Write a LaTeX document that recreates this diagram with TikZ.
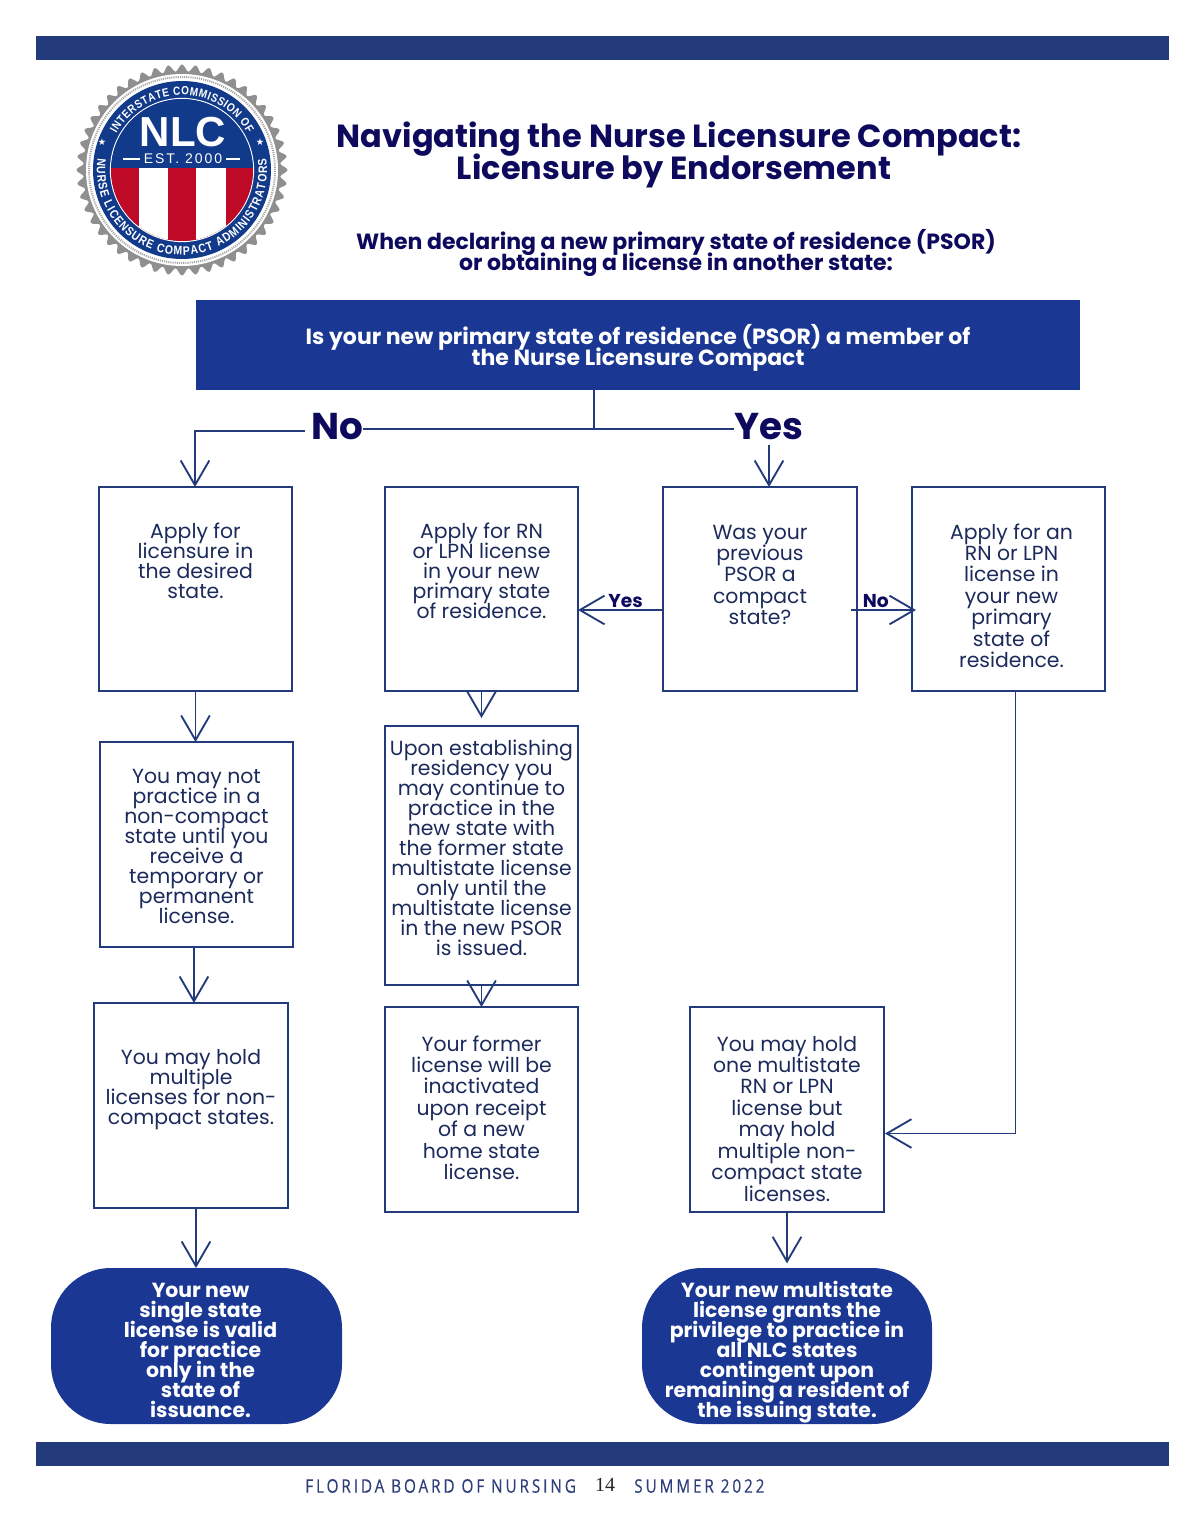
\documentclass[tikz,border=0pt]{standalone}
\usepackage{fontspec}
\setmainfont{Poppins}
\newfontfamily\arialf{Liberation Sans}
\newfontfamily\sealf[FakeStretch=0.85]{Liberation Sans}
\newfontfamily\footf[LetterSpace=15.5,FakeStretch=0.82,FakeBold=0.4]{Open Sans}
\newfontfamily\numf{Liberation Serif}
\newfontfamily\estf[LetterSpace=14]{Liberation Sans}
\newfontfamily\starf{DejaVu Sans}
\usetikzlibrary{arrows.meta,decorations.text,calc}
\normallineskiplimit=-100pt
\lineskiplimit=-100pt
\AtBeginDocument{\lineskiplimit=-100pt}
\definecolor{barblue}{HTML}{233A7B}
\definecolor{fillblue}{HTML}{1A3793}
\definecolor{navy}{HTML}{0D0A5E}
\definecolor{bodyink}{HTML}{1B2A5B}
\definecolor{sealblue}{HTML}{123A8A}
\definecolor{sealred}{HTML}{BE0A26}
\definecolor{sealgray}{HTML}{8F8F8F}
\definecolor{footink}{HTML}{2E3F7B}
\newdimen\pxu \pxu=0.75pt
\newcommand{\boxtext}[5][0]{\parbox[c][#3\pxu][t]{#2\pxu}{\vspace*{#4\pxu}\centering\advance\leftskip by #1\pxu\advance\leftskip by #1\pxu\rule{0pt}{12.75pt}#5\par}}
\tikzset{
  bar/.style={fill=barblue,draw=none},
  flowbox/.style={draw=barblue,line width=0.85pt,inner sep=0pt,outer sep=0pt,anchor=north west,text=bodyink,
     font=\fontsize{15.3}{15}\selectfont},
  widelead/.style={font=\fontsize{15.3}{16.1}\selectfont},
  endbox/.style={fill=fillblue,draw=none,rounded corners=45pt,inner sep=0pt,outer sep=0pt,anchor=north west,text=white,
     font=\fontsize{15.3}{15}\selectfont\bfseries},
  questionbox/.style={fill=fillblue,text=white,inner sep=0pt,outer sep=0pt,anchor=north west,
     font=\fontsize{16.5}{15.75}\selectfont\bfseries},
  headline/.style={text=navy,inner sep=0pt,align=center,font=\fontsize{24}{24}\selectfont\bfseries},
  subline/.style={text=navy,inner sep=0pt,align=center,font=\fontsize{16.5}{15.75}\selectfont\bfseries},
  bigword/.style={text=navy,inner sep=0pt,font=\fontsize{28}{28}\selectfont\bfseries},
  smallword/.style={text=navy,inner sep=0pt,font=\fontsize{14}{14}\selectfont\bfseries},
  link/.style={draw=barblue,line width=0.8pt},
  flow/.style={link,-{Straight Barb[length=18.5pt,width=21.5pt,line width=1.4pt]}},
  sealtext/.style={text=white,inner sep=0pt},
}
\begin{document}
\begin{tikzpicture}[x=0.75pt,y=-0.75pt]
\useasboundingbox (0,0) rectangle (1200,1540);
% bars
\fill[bar] (36,36) rectangle (1169,60);
\fill[bar] (36,1442) rectangle (1169,1466);
% seal
\begin{scope}[shift={(182,170)},y=0.75pt]
  \fill[sealgray] plot[domain=0:360,samples=361] (\x:{102+3.5*cos(48*mod(\x,45))});
  \fill[white] (0,0) circle (96);
  \draw[gray!70,line width=1.5pt,dash pattern=on 0.8pt off 0.8pt] (0,0) circle (93);
  \fill[sealblue] (0,0) circle (89);
  \draw[white,line width=0.9pt] (0,0) circle (71.5);
  \begin{scope}
    \clip (0,0) circle (71);
    \fill[sealblue] (-72,2) rectangle (72,72);
    \fill[sealred] (-72,-72) rectangle (72,2);
    \fill[white] (-43,-72) rectangle (-14,2);
    \fill[white] (14,-72) rectangle (44,2);
  \end{scope}
  \node[sealtext,font=\arialf\fontsize{31.5}{31.5}\selectfont\bfseries] (nlc) at (1,38) {NLC};
  \node[sealtext,font=\estf\fontsize{10.5}{10.5}\selectfont] (est) at (1,11) {EST. 2000};
  \draw[white,line width=0.9pt] (-59,11) -- ([xshift=-3pt]est.west);
  \draw[white,line width=0.9pt] ([xshift=3pt]est.east) -- (58,11);
  \path[decorate,decoration={text along path,text align={fit to path},
     text={|\sealf\fontsize{8.8}{8.8}\selectfont\bfseries\color{white}|INTERSTATE COMMISSION OF}}]
     (151:75) arc[start angle=151,end angle=29,radius=75];
  \path[decorate,decoration={text along path,text align={fit to path},
     text={|\sealf\fontsize{9.2}{9.2}\selectfont\bfseries\color{white}|NURSE LICENSURE COMPACT ADMINISTRATORS}}]
     (172:85) arc[start angle=172,end angle=368,radius=85];
  \node[sealtext,font=\starf\fontsize{7}{7}\selectfont] (star1) at (-80,28) {★};
  \node[sealtext,font=\starf\fontsize{7}{7}\selectfont] (star2) at (78,28) {★};
\end{scope}
% headings
\node[headline] (title) at (679,155) {Navigating the Nurse Licensure Compact:\\\hspace*{-10\pxu}Licensure by Endorsement};
\node[subline] (sub) at (676,253) {When declaring a new primary state of residence (PSOR)\\or obtaining a license in another state:};
% question
\node[questionbox] (q) at (196,300)
  {\boxtext{884}{90}{24.5}{Is your new primary state of residence (PSOR) a member of\\the Nurse Licensure Compact}};
\node[bigword] (no) at (337,427) {No};
\node[bigword] (yes) at (769,427) {Yes};
% boxes
\node[flowbox] (b1) at (99,487) {\boxtext{193}{204}{34}{Apply for\\licensure in\\the desired\\state.}};
\node[flowbox] (b2) at (385,487) {\boxtext{193}{204}{34}{Apply for RN\\or LPN license\\in your new\\primary state\\of residence.}};
\node[flowbox,widelead] (b3) at (663,487) {\boxtext{194}{204}{35}{Was your\\previous\\PSOR a\\compact\\state?}};
\node[flowbox,widelead] (b4) at (912,487) {\boxtext[3]{193}{204}{35}{Apply for an\\RN or LPN\\license in\\your new\\primary\\state of\\residence.}};
\node[flowbox] (b5) at (100,742) {\boxtext{193}{205}{24}{You may not\\practice in a\\non-compact\\state until you\\receive a\\temporary or\\permanent\\license.}};
\node[flowbox] (b6) at (385,726) {\boxtext{193}{259}{12}{Upon establishing\\residency you\\may continue to\\practice in the\\new state with\\the former state\\multistate license\\only until the\\multistate license\\in the new PSOR\\is issued.}};
\node[flowbox] (b7) at (94,1003) {\boxtext{194}{205}{44}{You may hold\\multiple\\licenses for non-\\compact states.}};
\node[flowbox,widelead] (b8) at (385,1007) {\boxtext{193}{205}{27}{Your former\\license will be\\inactivated\\upon receipt\\of a new\\home state\\license.}};
\node[flowbox,widelead] (b9) at (690,1007) {\boxtext{194}{205}{27}{You may hold\\one multistate\\RN or LPN\\license but\\may hold\\multiple non-\\compact state\\licenses.}};
\node[endbox] (e1) at (51,1268) {\boxtext[4]{291}{156}{12}{Your new\\single state\\license is valid\\for practice\\only in the\\state of\\issuance.}};
\node[endbox] (e2) at (642,1268) {\boxtext{290}{156}{12}{Your new multistate\\license grants the\\privilege to practice in\\all NLC states\\contingent upon\\remaining a resident of\\the issuing state.}};
% tree
\coordinate (join) at (594,430);
\coordinate (noleft) at (195,431);
\draw[link] (q.south -| join) -- (join);
\draw[link,line width=1.1pt] ([yshift=-1.5pt]no.east) -- ([yshift=-1.5pt]yes.west);
\draw[flow] ([xshift=-4.5pt]no.west |- noleft) -- (noleft) -- (noleft |- b1.north);
\draw[flow] ([yshift=-3pt]yes.south) -- (yes.south |- b3.north);
% flow links
\draw[flow] (b1.south) -- (b1.south |- b5.north);
\draw[flow] ([xshift=-1.9pt]b5.south) -- ([xshift=-1.9pt]b5.south |- b7.north);
\draw[flow] ([xshift=3.75pt]b7.south) -- ([xshift=3.75pt]b7.south |- e1.north);
\draw[flow,shorten >=6pt] (b2.south) -- (b2.south |- b6.north);
\draw[flow] (b6.south) -- (b8.north);
\draw[flow] ([yshift=-15.75pt]b3.west) -- node[smallword,pos=0.44,above=1pt] (ly) {Yes} ([yshift=-15.75pt]b2.east);
\draw[flow] ([xshift=-4.5pt,yshift=-15.75pt]b3.east) -- node[smallword,pos=0.38,above=1pt] (ln) {No} ([xshift=3pt,yshift=-15.75pt]b4.west);
\draw[flow] ([xshift=4.9pt]b4.south) |- ([xshift=0.7pt,yshift=-18pt]b9.east);
\draw[flow,shorten >=3.5pt] (b9.south) -- (b9.south |- e2.north);
% footer
\node[text=footink,inner sep=0pt,anchor=west,font=\footf\fontsize{14}{14}\selectfont] (f1) at (305,1486) {FLORIDA BOARD OF NURSING};
\node[text=black!85,inner sep=0pt,font=\numf\fontsize{15}{15}\selectfont] (f2) at (605,1485) {14};
\node[text=footink,inner sep=0pt,anchor=west,font=\footf\fontsize{14}{14}\selectfont] (f3) at (634,1486) {SUMMER 2022};
\end{tikzpicture}
\end{document}
